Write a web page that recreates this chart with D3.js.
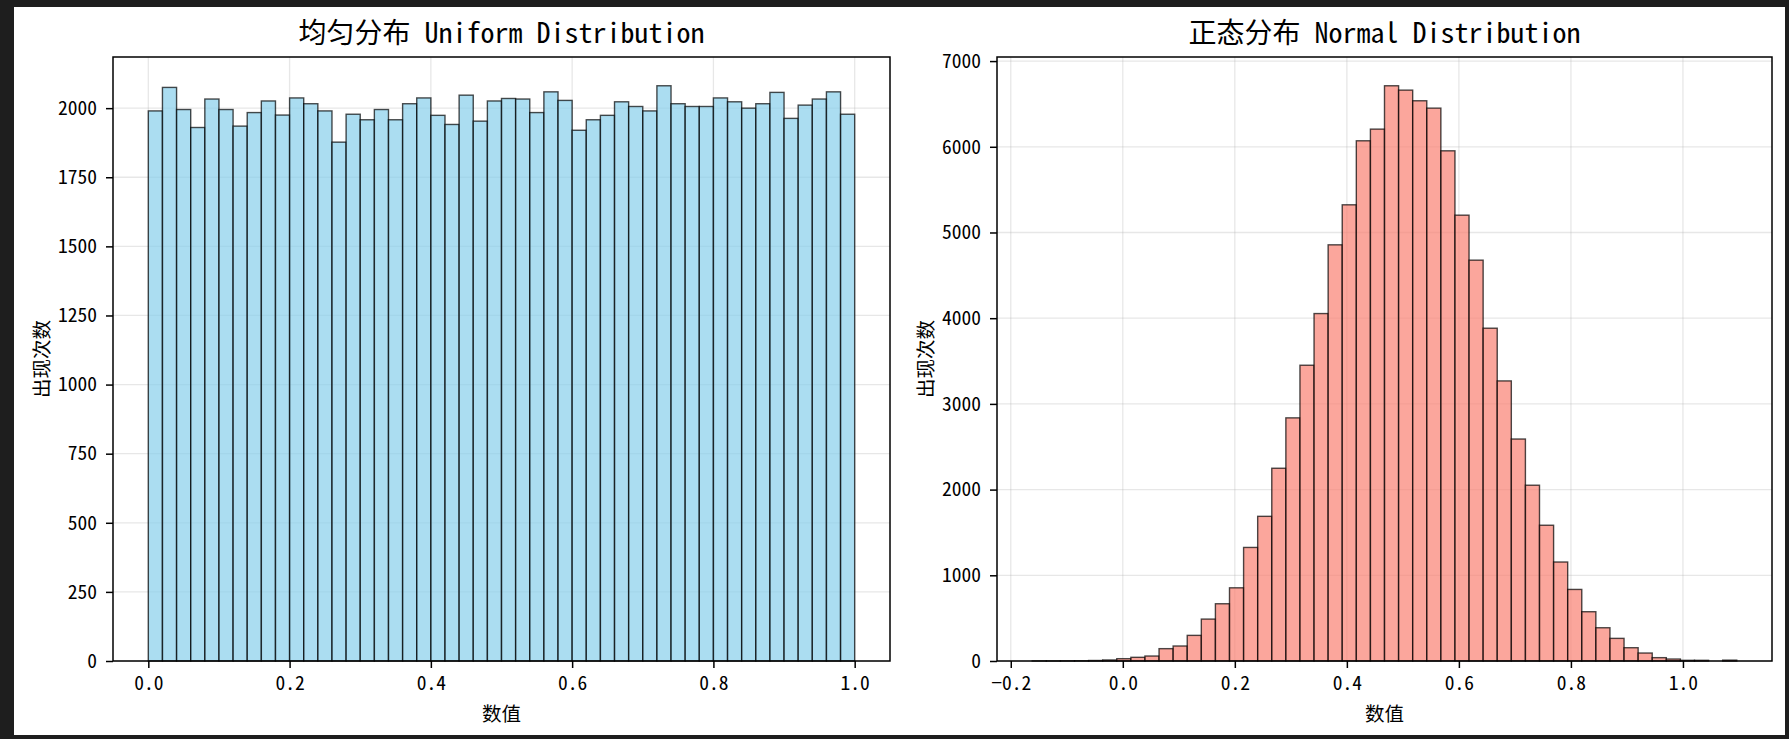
<!DOCTYPE html>
<html>
<head>
<meta charset="utf-8">
<script src="https://cdn.jsdelivr.net/npm/d3@7"></script>
<style>
html, body { margin: 0; padding: 0; background: #1e1e1e; overflow: hidden; }
svg text { font-family: "Noto Sans Mono CJK SC", "DejaVu Sans Mono", "Noto Sans CJK SC", monospace; fill: #000; }
</style>
</head>
<body>
<div id="chart"></div>
<script>
// 均匀分布：50 个区间的计数
const uniformRange = [0, 1]
const uniformCounts = [1990, 2075, 1995, 1930, 2033, 1995, 1935, 1984, 2026, 1975,
    2037, 2016, 1990, 1877, 1978, 1958, 1995, 1958, 2016, 2037,
    1974, 1941, 2047, 1953, 2026, 2035, 2033, 1984, 2059, 2028,
    1920, 1958, 1974, 2023, 2006, 1990, 2081, 2016, 2006, 2006,
    2037, 2023, 2000, 2016, 2057, 1963, 2011, 2033, 2059, 1978]
const uniformXTicks = [0, 0.2, 0.4, 0.6, 0.8, 1.0]
const uniformYTicks = [0, 250, 500, 750, 1000, 1250, 1500, 1750, 2000]

// 正态分布：50 个区间的计数
const normalRange = [-0.1617, 1.0961]
const normalCounts = [1, 1, 2, 3, 6, 12, 27, 43, 58, 144,
    175, 299, 489, 668, 854, 1325, 1688, 2249, 2837, 3451,
    4054, 4856, 5323, 6070, 6206, 6712, 6661, 6537, 6451, 5953,
    5202, 4677, 3883, 3268, 2590, 2051, 1584, 1155, 835, 575,
    388, 264, 155, 93, 39, 23, 8, 8, 0, 10]
const normalXTicks = [-0.2, 0, 0.2, 0.4, 0.6, 0.8, 1.0]
const normalYTicks = [0, 1000, 2000, 3000, 4000, 5000, 6000, 7000]

const width = 1789
const height = 739

const svg = d3.select('#chart')
    .append('svg').attr('width', width).attr('height', height)

// 白色画布
svg.append('rect')
    .attr('x', 14).attr('y', 7)
    .attr('width', 1771).attr('height', 728)
    .attr('fill', '#ffffff')

function drawHist(cfg) {
    const w = cfg.width, h = cfg.height
    const g = svg.append('g').attr('transform', `translate(${cfg.left}, ${cfg.top})`)

    const n = cfg.counts.length
    const span = cfg.range[1] - cfg.range[0]
    const bins = cfg.counts.map((c, i) => ({
        x0: cfg.range[0] + span * i / n,
        x1: cfg.range[0] + span * (i + 1) / n,
        count: c
    }))

    // matplotlib 默认 5% 边距
    const x = d3.scaleLinear()
        .domain([cfg.range[0] - span * 0.05, cfg.range[1] + span * 0.05])
        .range([0, w])
    const y = d3.scaleLinear()
        .domain([0, d3.max(cfg.counts) * 1.05])
        .range([h, 0])

    // 网格线
    g.append('g').selectAll('line')
        .data(cfg.xTicks).join('line')
        .attr('x1', d => x(d)).attr('x2', d => x(d))
        .attr('y1', 0).attr('y2', h)
        .attr('stroke', '#b0b0b0').attr('stroke-opacity', 0.3).attr('stroke-width', 1.3)
    g.append('g').selectAll('line')
        .data(cfg.yTicks).join('line')
        .attr('x1', 0).attr('x2', w)
        .attr('y1', d => y(d)).attr('y2', d => y(d))
        .attr('stroke', '#b0b0b0').attr('stroke-opacity', 0.3).attr('stroke-width', 1.3)

    // 柱子
    g.append('g').selectAll('rect')
        .data(bins).join('rect')
        .attr('x', d => x(d.x0))
        .attr('y', d => y(d.count))
        .attr('width', d => x(d.x1) - x(d.x0))
        .attr('height', d => y(0) - y(d.count))
        .attr('fill', cfg.color).attr('fill-opacity', 0.7)
        .attr('stroke', '#000').attr('stroke-opacity', 0.7).attr('stroke-width', 1.4)

    // 坐标轴
    const fmt = d3.format('.1f')
    const xAxis = g.append('g')
        .attr('transform', `translate(0, ${h})`)
        .call(d3.axisBottom(x).tickValues(cfg.xTicks).tickFormat(fmt).tickSize(7).tickPadding(8))
    const yAxis = g.append('g')
        .call(d3.axisLeft(y).tickValues(cfg.yTicks).tickFormat(d3.format('d')).tickSize(7).tickPadding(9))
    ;[xAxis, yAxis].forEach(a => {
        a.select('.domain').remove()
        a.selectAll('line').attr('stroke', '#000').attr('stroke-width', 1.5)
        a.selectAll('text').style('font-size', '19.5px').attr('fill', '#000')
    })

    // 边框
    g.append('rect')
        .attr('width', w).attr('height', h)
        .attr('fill', 'none').attr('stroke', '#000').attr('stroke-width', 1.5)

    // 标题
    g.append('text')
        .attr('x', w / 2).attr('y', -14)
        .attr('text-anchor', 'middle')
        .style('font-size', '28px')
        .text(cfg.title)

    // x 轴标签
    g.append('text')
        .attr('x', w / 2).attr('y', h + 51)
        .attr('text-anchor', 'middle')
        .attr('dominant-baseline', 'central')
        .style('font-size', '19.5px')
        .text('数值')

    // y 轴标签
    g.append('text')
        .attr('transform', `translate(-73, ${h / 2}) rotate(-90)`)
        .attr('text-anchor', 'middle')
        .attr('dominant-baseline', 'central')
        .style('font-size', '19.5px')
        .text('出现次数')
}

drawHist({
    left: 113, top: 57, width: 777, height: 604,
    range: uniformRange, counts: uniformCounts,
    xTicks: uniformXTicks, yTicks: uniformYTicks,
    color: '#87ceeb', title: '均匀分布 Uniform Distribution'
})

drawHist({
    left: 997, top: 57, width: 775, height: 604,
    range: normalRange, counts: normalCounts,
    xTicks: normalXTicks, yTicks: normalYTicks,
    color: '#fa8072', title: '正态分布 Normal Distribution'
})
</script>
</body>
</html>
